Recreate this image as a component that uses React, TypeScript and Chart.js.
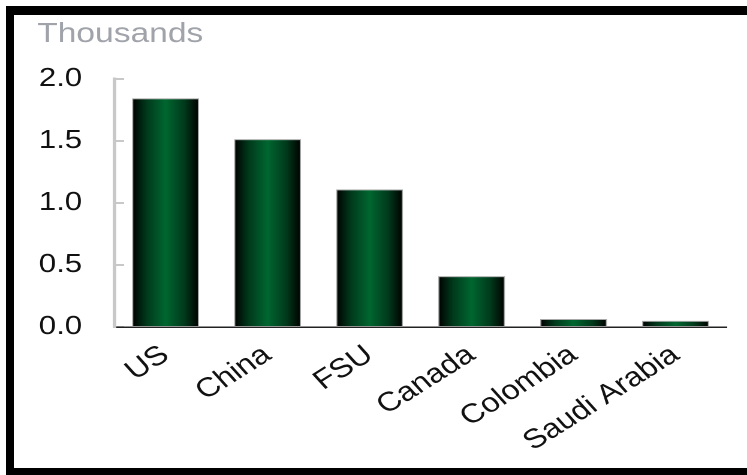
import React, { useEffect, useRef } from 'react';
import { Chart, registerables } from 'chart.js';

Chart.register(...registerables);

const categories = ['US', 'China', 'FSU', 'Canada', 'Colombia', 'Saudi Arabia'];
const values = [1.845, 1.515, 1.11, 0.41, 0.065, 0.05];
const yTicks = [0, 0.5, 1.0, 1.5, 2.0];
const unitLabel = 'Thousands';

const BAR_PCT = 0.657;
const CANVAS_W = 623;
const CANVAS_H = 475;
const STRETCH = 747 / CANVAS_W;
const FONT = '"Liberation Sans", Arial, Helvetica, sans-serif';

const unitPlugin = {
  id: 'unitLabel',
  afterDraw(chart: any) {
    const { ctx, chartArea } = chart;
    ctx.save();
    ctx.font = `28px ${FONT}`;
    ctx.fillStyle = '#a0a3aa';
    ctx.textBaseline = 'alphabetic';
    ctx.textAlign = 'left';
    ctx.fillText(unitLabel, chartArea.left - 64.5, chartArea.top - 37);
    ctx.restore();
  },
};

export default function App() {
  const ref = useRef<HTMLCanvasElement>(null);

  useEffect(() => {
    const canvas = ref.current!;
    const chart = new Chart(canvas, {
      type: 'bar',
      data: {
        labels: categories,
        datasets: [
          {
            data: values,
            backgroundColor: (c: any) => {
              const ch = c.chart;
              const xs = ch.scales && ch.scales.x;
              if (!xs || !ch.chartArea || c.dataIndex === undefined) return '#005a2a';
              const cx = xs.getPixelForValue(c.dataIndex);
              const w = (xs.width / categories.length) * BAR_PCT;
              const g = ch.ctx.createLinearGradient(cx - w / 2, 0, cx + w / 2, 0);
              g.addColorStop(0, '#000000');
              g.addColorStop(0.22, '#003a1c');
              g.addColorStop(0.5, '#006730');
              g.addColorStop(0.78, '#003a1c');
              g.addColorStop(1, '#000000');
              return g;
            },
            borderColor: '#a8a8a8',
            borderWidth: 1,
            borderSkipped: 'bottom',
            categoryPercentage: 1,
            barPercentage: BAR_PCT,
          },
        ],
      },
      options: {
        animation: false,
        responsive: false,
        devicePixelRatio: 2,
        layout: { padding: { top: 79, left: 0, right: 17, bottom: 0 } },
        plugins: {
          legend: { display: false },
          tooltip: { enabled: false },
          title: { display: false },
        },
        scales: {
          x: {
            grid: { display: false },
            border: { display: true, color: '#222222', width: 1.5 },
            ticks: {
              autoSkip: false,
              minRotation: 37,
              maxRotation: 37,
              padding: 4,
              color: '#111111',
              font: { family: FONT, size: 27 },
            },
            afterFit: (s: any) => {
              s.height = 148;
            },
          },
          y: {
            min: 0,
            max: 2,
            afterBuildTicks: (s: any) => {
              s.ticks = yTicks.map((v) => ({ value: v }));
            },
            grid: {
              display: true,
              drawOnChartArea: false,
              drawTicks: true,
              tickLength: -8,
              color: '#c8c8c8',
              lineWidth: 2,
            },
            border: { display: true, color: '#c8c8c8', width: 3 },
            ticks: {
              padding: 35,
              color: '#111111',
              font: { family: FONT, size: 26 },
              callback: (v: any) => Number(v).toFixed(1),
            },
            afterFit: (s: any) => {
              s.width = 95.5;
            },
          },
        },
      },
      plugins: [unitPlugin],
    });
    return () => chart.destroy();
  }, []);

  return (
    <div
      style={{
        position: 'fixed',
        left: 0,
        top: 0,
        width: 747,
        height: 475,
        overflow: 'hidden',
        background: '#ffffff',
      }}
    >
      <div
        style={{
          position: 'absolute',
          left: 0,
          top: 0,
          width: CANVAS_W,
          height: CANVAS_H,
          transform: `scaleX(${STRETCH})`,
          transformOrigin: '0 0',
        }}
      >
        <canvas ref={ref} width={CANVAS_W} height={CANVAS_H} style={{ display: 'block' }} />
      </div>
      <div
        style={{
          position: 'absolute',
          left: 6,
          top: 6,
          right: -20,
          bottom: 0,
          boxSizing: 'border-box',
          borderLeft: '8px solid #000',
          borderTop: '9px solid #000',
          borderBottom: '7px solid #000',
          pointerEvents: 'none',
        }}
      />
    </div>
  );
}
